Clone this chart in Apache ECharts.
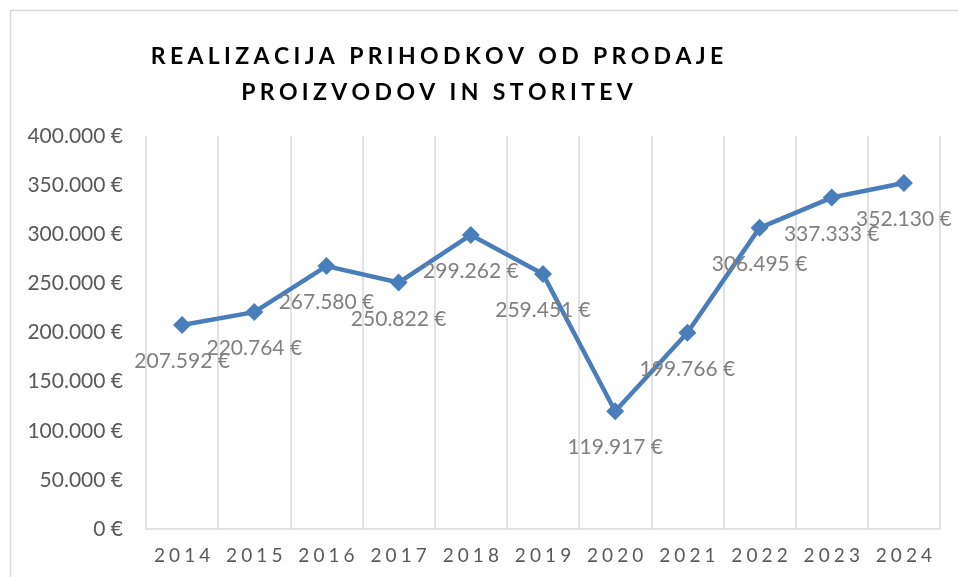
<!DOCTYPE html>
<html>
<head>
<meta charset="utf-8">
<script src="https://cdn.jsdelivr.net/npm/echarts@6/dist/echarts.min.js"></script>
<style>html,body{margin:0;padding:0;background:#fff;}#c{width:958px;height:577px;}</style>
</head>
<body>
<div id="c"></div>
<script>
const titleLines = ['REALIZACIJA PRIHODKOV OD PRODAJE', 'PROIZVODOV IN STORITEV'];
const years = ['2014','2015','2016','2017','2018','2019','2020','2021','2022','2023','2024'];
const revenue = [207592, 220764, 267580, 250822, 299262, 259451, 119917, 199766, 306495, 337333, 352130];
const yTicks = [0, 50000, 100000, 150000, 200000, 250000, 300000, 350000, 400000];

function fmtEur(v) {
  return String(Math.round(v)).replace(/\B(?=(\d{3})+(?!\d))/g, '.') + ' €';
}
// letter-spaced rich text: each char in style 'c', followed by a small gap space in style 'g'
function spacedRich(s) {
  return s.split('').map(ch => '{c|' + ch + '}').join('{g| }');
}

const chart = echarts.init(document.getElementById('c'), null, {renderer: 'canvas'});
chart.setOption({
  animation: false,
  backgroundColor: '#ffffff',
  grid: {left: 146, right: 18, top: 136, bottom: 48, containLabel: false},
  graphic: [
    {type: 'rect', silent: true, shape: {x: 10.5, y: 10.5, width: 1200, height: 1200},
     style: {fill: null, stroke: '#d9d9d9', lineWidth: 1.5}},
    {type: 'text', x: 437, y: 57, silent: true,
     style: {text: spacedRich(titleLines[0]), align: 'center', verticalAlign: 'middle',
       rich: {c: {fontFamily: 'Lato', fontWeight: 'bold', fontSize: 23, fill: '#000000', color: '#000000'},
              g: {fontFamily: 'Lato', fontSize: 17}}}},
    {type: 'text', x: 437, y: 93, silent: true,
     style: {text: spacedRich(titleLines[1]), align: 'center', verticalAlign: 'middle',
       rich: {c: {fontFamily: 'Lato', fontWeight: 'bold', fontSize: 23, fill: '#000000', color: '#000000'},
              g: {fontFamily: 'Lato', fontSize: 17}}}}
  ],
  xAxis: {
    type: 'category',
    data: years,
    boundaryGap: true,
    axisLine: {show: true, lineStyle: {color: '#d9d9d9', width: 1.5}},
    axisTick: {show: false, interval: 0},
    splitLine: {show: true, interval: 0, lineStyle: {color: '#d9d9d9', width: 1.5}},
    axisLabel: {
      interval: 0,
      hideOverlap: false,
      formatter: v => spacedRich(v),
      margin: 17,
      rich: {c: {fontFamily: 'Lato', fontSize: 19, color: '#595959'},
             g: {fontFamily: 'Lato', fontSize: 16}}
    }
  },
  yAxis: {
    type: 'value',
    min: yTicks[0], max: yTicks[yTicks.length - 1], interval: yTicks[1] - yTicks[0],
    axisLine: {show: false},
    axisTick: {show: false},
    splitLine: {show: false},
    axisLabel: {formatter: fmtEur, fontFamily: 'Lato', fontSize: 21, color: '#595959', margin: 23}
  },
  series: [{
    type: 'line',
    data: revenue,
    symbol: 'diamond',
    symbolSize: 18,
    lineStyle: {color: '#4a7ebb', width: 4.5},
    itemStyle: {color: '#4a7ebb'},
    label: {
      show: true, position: 'bottom', distance: 17,
      formatter: p => fmtEur(p.value),
      fontFamily: 'Lato', fontSize: 21, color: '#808080'
    }
  }]
});
</script>
</body>
</html>
